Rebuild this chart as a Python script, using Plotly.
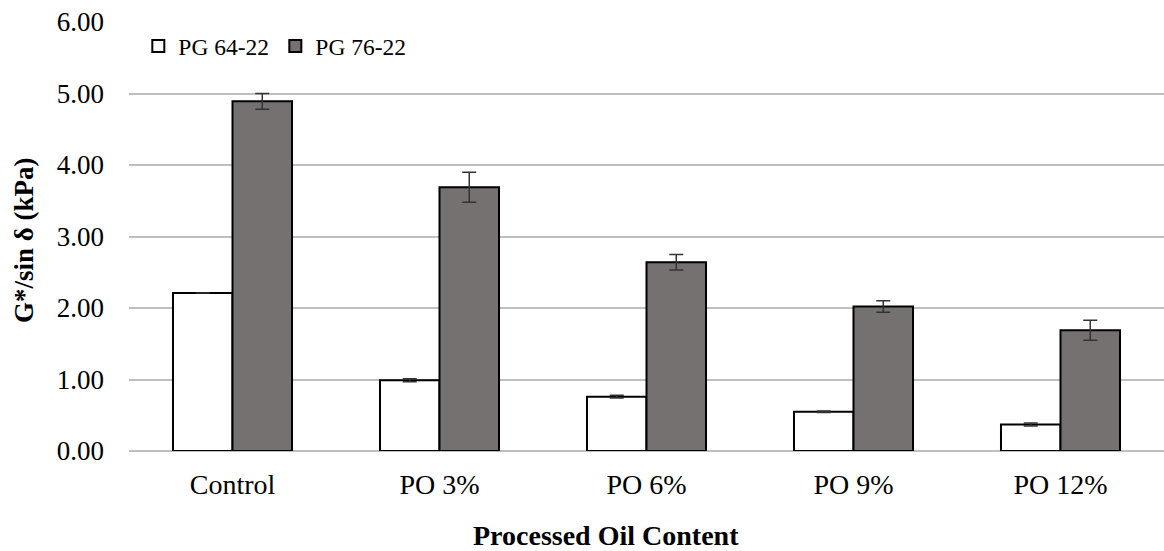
import plotly.graph_objects as go

categories = ["Control", "PO 3%", "PO 6%", "PO 9%", "PO 12%"]
pg64_values = [2.21, 0.99, 0.76, 0.55, 0.37]
pg64_errors = [0.0, 0.02, 0.02, 0.01, 0.02]
pg76_values = [4.89, 3.69, 2.64, 2.02, 1.69]
pg76_errors = [0.11, 0.21, 0.11, 0.08, 0.14]
y_ticks = [0, 1, 2, 3, 4, 5, 6]
y_tick_labels = ["0.00", "1.00", "2.00", "3.00", "4.00", "5.00", "6.00"]
x_title = "Processed Oil Content"
y_title = "G*/sin δ (kPa)"

FONT = "Liberation Serif, Times New Roman, serif"

fig = go.Figure()
fig.add_trace(go.Bar(
    name="PG 64-22", x=categories, y=pg64_values,
    marker=dict(color="white", line=dict(color="black", width=2)),
    error_y=dict(type="data", array=pg64_errors, visible=True, color="#333333", thickness=1.5, width=7),
))
fig.add_trace(go.Bar(
    name="PG 76-22", x=categories, y=pg76_values,
    marker=dict(color="#767171", line=dict(color="black", width=2)),
    error_y=dict(type="data", array=pg76_errors, visible=True, color="#333333", thickness=1.5, width=7),
))

fig.update_layout(
    width=1164, height=551,
    margin=dict(l=129, r=0, t=22, b=100),
    paper_bgcolor="white", plot_bgcolor="white",
    barmode="group", bargap=0.425, bargroupgap=0,
    font=dict(family=FONT, color="black", size=27),
    showlegend=True,
    legend=dict(orientation="h", x=0.009, y=0.995, xanchor="left", yanchor="top",
                font=dict(size=23.5, family=FONT), bgcolor="rgba(0,0,0,0)",
                itemwidth=30, tracegroupgap=0, entrywidth=92, entrywidthmode="pixels"),
    annotations=[
        dict(text="<b>" + x_title + "</b>", xref="paper", yref="paper",
             x=(606 - 129) / 1035, y=-0.196, xanchor="center", yanchor="middle",
             showarrow=False, font=dict(size=28, family=FONT, color="black")),
        dict(text="<b>" + y_title + "</b>", xref="paper", yref="paper",
             x=(24 - 129) / 1035, y=(451 - 240) / 429, xanchor="center", yanchor="middle",
             textangle=-90, showarrow=False, font=dict(size=27, family=FONT, color="black")),
    ],
)
fig.update_xaxes(
    showgrid=False, showline=False, zeroline=False, ticks="",
    tickfont=dict(size=28, family=FONT), ticklabelstandoff=14,
)
fig.update_yaxes(
    range=[0, 6], tickvals=y_ticks, ticktext=y_tick_labels,
    showgrid=True, gridcolor="#bfbfbf", gridwidth=1.5,
    zeroline=True, zerolinecolor="#bfbfbf", zerolinewidth=1.5,
    showline=False, ticks="", ticklabelstandoff=24,
    tickfont=dict(size=27, family=FONT),
)

fig.write_html("out.html")
